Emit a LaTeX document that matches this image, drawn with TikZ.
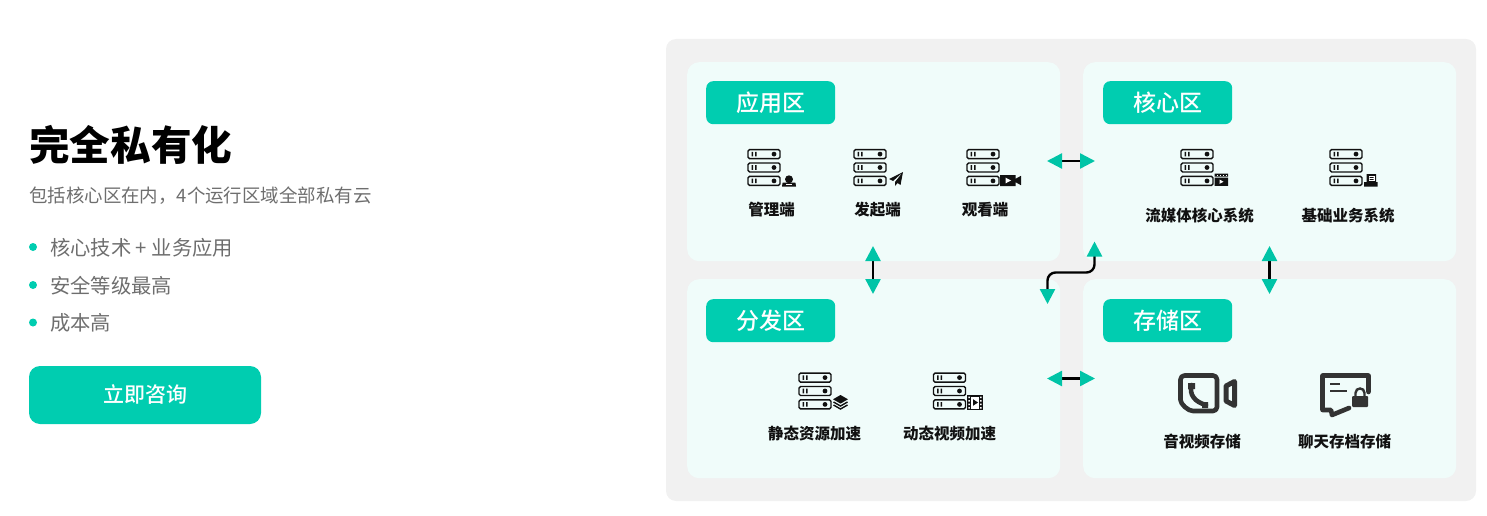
\documentclass[tikz,border=0pt]{standalone}
\usepackage{fontspec}
\setmainfont{Noto Sans CJK SC}
\newfontfamily\heavycjk{Noto Sans CJK SC Black}
\newfontfamily\mediumcjk{Noto Sans CJK SC Medium}
\usetikzlibrary{arrows.meta}
\definecolor{mintmain}{HTML}{00CDB0}
\definecolor{mintarrow}{HTML}{00C4A7}
\definecolor{mintpale}{HTML}{F0FCFA}
\definecolor{greyback}{HTML}{F1F1F1}
\definecolor{greytext}{HTML}{6E6E6E}
\definecolor{inkicon}{HTML}{111111}
\definecolor{inkbig}{HTML}{333333}
\tikzset{
  panelbox/.style={fill=mintpale,rounded corners=12pt,draw=none,inner sep=0pt,minimum width=373pt,minimum height=199pt,anchor=north west},
  tagbox/.style={fill=mintmain,text=white,rounded corners=7pt,inner sep=0pt,minimum width=129pt,minimum height=43pt,anchor=north west,font=\fontsize{23}{23}\selectfont\mediumcjk},
  srvlabel/.style={inner sep=0pt,text=inkicon,font=\fontsize{15.5}{16}\selectfont\bfseries},
  bullettext/.style={anchor=west,inner sep=0pt,text=greytext,font=\fontsize{20.3}{20}\selectfont},
  bulletdot/.style={circle,fill=mintmain,inner sep=0pt,minimum size=8pt},
  linkline/.style={line width=2.4pt,color=black,{Triangle[length=15pt,width=15pt,color=mintarrow]}-{Triangle[length=15pt,width=15pt,color=mintarrow]}},
  srvstack/.pic={
    \foreach \Y in {0,13.4,26.8} {
      \draw[line width=1.4pt,rounded corners=1.5pt,color=inkicon] (0,\Y+0.6) rectangle (32,\Y+9.6);
      \fill[inkicon] (3.5,\Y+2.8) rectangle (5,\Y+7.4) (7.2,\Y+2.8) rectangle (8.7,\Y+7.4);
      \fill[inkicon] (26,\Y+5.1) circle (2.4pt);
    }
  },
  badgeuser/.pic={
    \fill[inkicon] (7,3.8) circle (4pt);
    \fill[inkicon] (0,11) -- (0.6,7) -- (13.4,7) -- (14,11) -- cycle;
    \fill[white] (4.2,8.6) rectangle (9.8,9.8);
  },
  badgeplane/.pic={
    \fill[inkicon] (14,0) -- (0,7) -- (4,9) -- (14,0) -- (6,10) -- (6,14) -- (8.5,11) -- (11.5,13) -- cycle;
  },
  badgecam/.pic={
    \fill[inkicon] (0,0) rectangle (15.5,11) (15.5,3.8) -- (21,0.8) -- (21,10.2) -- (15.5,7.2) -- cycle;
    \fill[white] (5.5,2.6) -- (11,5.5) -- (5.5,8.4) -- cycle;
  },
  badgeclap/.pic={
    \fill[inkicon] (0,0) rectangle (13.5,3.2) (0,4.2) rectangle (13.5,12.4);
    \fill[white] (5,6) -- (9,8.2) -- (5,10.4) -- cycle;
    \foreach \X in {2.5,5.5,8.5,11.5} {\fill[white] (\X,1) rectangle (\X+1,2.2);}
  },
  badgebook/.pic={
    \fill[inkicon] (2.5,0) rectangle (12,8.5) (0,8) rectangle (13.5,12.5);
    \fill[white] (4.5,1.6) rectangle (10.5,7.4);
    \fill[inkicon] (5.5,3) rectangle (9.5,3.8) (5.5,5) rectangle (9.5,5.8);
  },
  badgelayers/.pic={
    \fill[inkicon] (7.5,0) -- (15,4.3) -- (7.5,8.6) -- (0,4.3) -- cycle;
    \draw[inkicon,line width=1.4pt] (0.5,7) -- (7.5,11) -- (14.5,7) (0.5,10) -- (7.5,14) -- (14.5,10);
  },
  badgefilm/.pic={
    \fill[inkicon] (0,0) rectangle (16,15);
    \fill[white] (4.2,1.5) rectangle (12,13.5);
    \fill[inkicon] (6,4.2) -- (11,7.5) -- (6,10.8) -- cycle;
    \foreach \Y in {1.5,5,8.5,12} {\fill[white] (1.3,\Y) rectangle (2.8,\Y+1.5) (13.2,\Y) rectangle (14.7,\Y+1.5);}
  },
}
\begin{document}
\begin{tikzpicture}[x=1pt,y=-1pt]
  \useasboundingbox (0,0) rectangle (1487,516);
  % left column
  \node[anchor=west,inner sep=0pt,text=black,font=\fontsize{40.6}{41}\selectfont\heavycjk] (maintitle) at (29,145) {完全私有化};
  \node[anchor=west,inner sep=0pt,text=greytext,font=\fontsize{18.45}{19}\selectfont] (subtitle) at (29,195.6) {包括核心区在内，4个运行区域全部私有云};
  \node[bulletdot] (dotA) at (33,247) {};
  \node[bulletdot] (dotB) at (33,285) {};
  \node[bulletdot] (dotC) at (33,322.5) {};
  \node[bullettext] (itemA) at (50,247.6) {核心技术 + 业务应用};
  \node[bullettext] (itemB) at (50,285.4) {安全等级最高};
  \node[bullettext] (itemC) at (50,322.5) {成本高};
  \node[fill=mintmain,text=white,rounded corners=11pt,inner sep=0pt,minimum width=232pt,minimum height=58pt,font=\fontsize{21}{21}\selectfont\mediumcjk] (askbtn) at (145,395) {立即咨询};

  % panels
  \fill[greyback,rounded corners=10pt] (666,39) rectangle (1476,501);
  \node[panelbox] (appzone) at (687,62) {};
  \node[panelbox] (corezone) at (1083,62) {};
  \node[panelbox] (distzone) at (687,279) {};
  \node[panelbox] (storezone) at (1083,279) {};
  \node[tagbox] (apptag) at (706,81) {应用区};
  \node[tagbox] (coretag) at (1103,81) {核心区};
  \node[tagbox] (disttag) at (706,299) {分发区};
  \node[tagbox] (storetag) at (1103,299) {存储区};

  % server icons
  \foreach \X/\Y in {748/149,854/149,967/149,1181/149,1330/149,799/372.5,933.5/372.5} {
    \pic at (\X,\Y) {srvstack};
  }
  \pic at (782,175.5) {badgeuser};
  \pic at (889,172) {badgeplane};
  \pic at (1000,175) {badgecam};
  \pic at (1214.5,173.5) {badgeclap};
  \pic at (1364,174) {badgebook};
  \pic at (833,395) {badgelayers};
  \pic at (967,395) {badgefilm};

  \node[srvlabel] (lblmanage) at (771.5,209.6) {管理端};
  \node[srvlabel] (lblsend) at (877.5,209.6) {发起端};
  \node[srvlabel] (lblwatch) at (985,209.6) {观看端};
  \node[srvlabel] (lblstream) at (1199.5,215.6) {流媒体核心系统};
  \node[srvlabel] (lblbase) at (1348,215.6) {基础业务系统};
  \node[srvlabel] (lblstatic) at (814.5,433.4) {静态资源加速};
  \node[srvlabel] (lbldynamic) at (949.5,433.4) {动态视频加速};
  \node[srvlabel] (lblav) at (1202,441.4) {音视频存储};
  \node[srvlabel] (lblchat) at (1344.7,441.4) {聊天存档存储};

  % big icons
  \draw[inkbig,line width=4.6pt,line join=round,rounded corners=4pt] (1180.5,396) -- (1180.5,375.5) -- (1217,375.5) -- (1217,411) -- (1197,411) .. controls (1188,411) and (1180.5,404) .. (1180.5,396) -- cycle;
  \draw[inkbig,line width=5pt,line join=round] (1226,386) -- (1234.5,381.5) -- (1234.5,405.5) -- (1226,401) -- cycle;
  \draw[inkbig,line width=4.6pt,line cap=round] (1191.5,385) .. controls (1189,395) and (1195,402) .. (1206,405);
  \fill[inkbig] (1188,383) rectangle (1195,389) (1202,402) rectangle (1208,408);
  \draw[inkbig,line width=4.6pt,line join=round,line cap=round] (1368.5,392) -- (1368.5,375.5) -- (1322.5,375.5) -- (1322.5,410) -- (1331,410) -- (1332,415) -- (1349,408);
  \draw[inkbig,line width=2.8pt] (1330,384) -- (1340,384) (1330,391) -- (1347,391);
  \fill[inkbig,rounded corners=1pt] (1352,396) rectangle (1368,407);
  \draw[inkbig,line width=2.4pt] (1355.5,397) -- (1355.5,393) .. controls (1355.5,387) and (1364.5,387) .. (1364.5,393) -- (1364.5,397);

  % links
  \coordinate (linkAleft) at (1047,161);
  \coordinate (linkAright) at (1095,161);
  \coordinate (linkBtop) at (873,246);
  \coordinate (linkBbot) at (873,294);
  \coordinate (linkCtop) at (1269.5,246);
  \coordinate (linkCbot) at (1269.5,294);
  \coordinate (linkDleft) at (1047,378.5);
  \coordinate (linkDright) at (1095,378.5);
  \coordinate (linkEtop) at (1094.5,241.5);
  \coordinate (linkEbot) at (1047.5,304);
  \draw[linkline] (linkAleft) -- (linkAright);
  \draw[linkline] (linkBtop) -- (linkBbot);
  \draw[linkline] (linkCtop) -- (linkCbot);
  \draw[linkline] (linkDleft) -- (linkDright);
  \draw[linkline,rounded corners=8pt] (linkEtop) |- (1071,272.5) -| (linkEbot);
\end{tikzpicture}
\end{document}
